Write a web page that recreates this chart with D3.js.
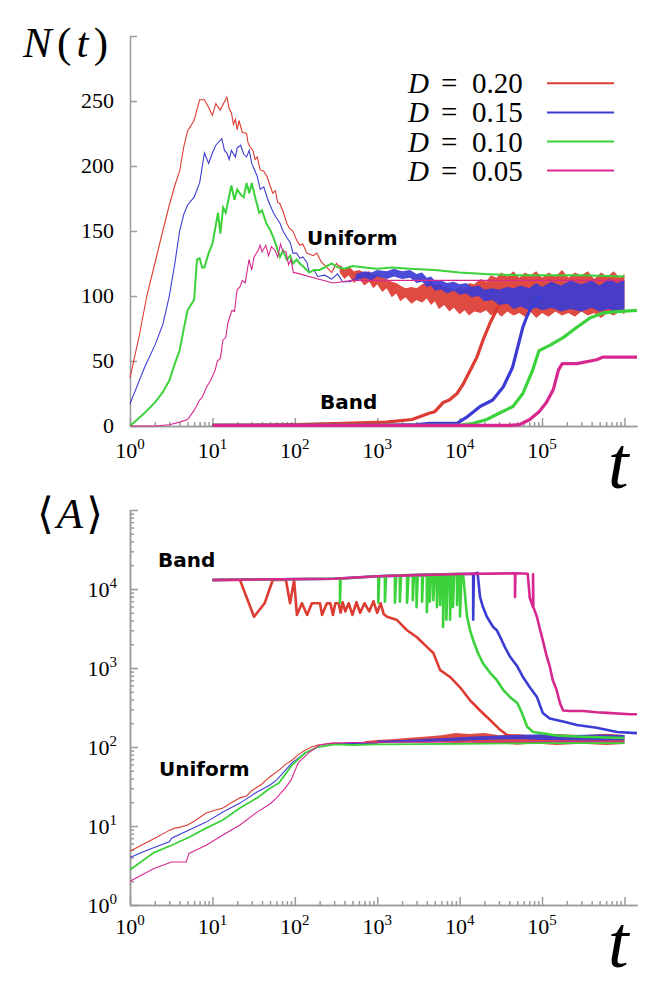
<!DOCTYPE html>
<html>
<head>
<meta charset="utf-8">
<script src="https://cdn.jsdelivr.net/npm/d3@7"></script>
<style>
  body { margin: 0; background: #fff; }
  svg text { font-family: "Liberation Serif", "DejaVu Serif", serif; fill: #000; }
  svg text.tag { font-family: "DejaVu Sans", sans-serif; font-weight: bold; }
</style>
</head>
<body>
<div id="chart"></div>
<script>
/* ===== data ===== */

const T_MAX = 1.42e6;
const tDecades = [1, 10, 100, 1e3, 1e4, 1e5, 1e6];
const tDecadeLabels = ['0', '1', '2', '3', '4', '5'];
const nTicks = [0, 50, 100, 150, 200, 250, 300];
const nTickLabels = ['0', '50', '100', '150', '200', '250'];
const aDecades = [1, 10, 100, 1e3, 1e4, 1e5];
const aDecadeLabels = ['0', '1', '2', '3', '4'];

const legendValues = ['0.20', '0.15', '0.10', '0.05'];
const colors = ['#dc3c32', '#3c3cd4', '#3cd23c', '#d72890'];

// ---- N(t), uniform initial condition: [t, N]
const nUni020 = [[1,37],[1.3,70],[1.6,100],[2,125],[2.5,150],[3,170],[3.5,185],[4,196],[4.5,215],[5,227],[6,235],[7,251],[8,251],[9,245],[10,239],[11,248],[12.4,243],[15,253],[16,244],[17,241],[18,232],[19,236],[20,228],[21,235],[23,226],[26,225],[27,218],[28.5,215],[31,212],[33,205],[35,207],[38,197],[42,196],[46,192],[50,185],[54,179],[58,181],[62,172],[66,171],[72,165],[80,156],[86,152],[95,150],[105,143],[115,139],[125,140],[140,133],[167,131],[185,133],[210,126],[245,122],[280,118],[320,125],[353,122]];
const nUni015 = [[1,17],[1.5,45],[2,62],[2.5,78],[3,100],[3.5,125],[4,150],[4.5,163],[5,170],[6,176],[7,187],[8,210],[9,202],[10,210],[11,216],[13,221],[14,212],[15,210],[16,205],[17,212],[19,207],[20,214],[22,216],[24,209],[26,207],[28,212],[30,202],[33,196],[35,192],[38,182],[42,184],[46,176],[50,170],[55,164],[60,160],[66,156],[72,150],[80,145],[88,141],[95,133],[105,133],[115,129],[125,130],[140,126],[150,118],[170,120],[190,115],[230,116],[280,113],[330,117],[380,111],[470,111],[550,114]];
const nUni010 = [[1,0],[1.5,10],[2,18],[2.5,26],[3,35],[3.5,48],[4,58],[4.5,75],[5,89],[6,97],[6.5,128],[7,129],[7.5,122],[8,122],[9,133],[10,140],[11.7,164],[12.5,148],[13.5,168],[14.5,164],[17,185],[18.5,174],[20,182],[22,178],[24,176],[26,187],[28,179],[30,187],[33,176],[37,164],[40,166],[45,156],[50,151],[55,145],[60,138],[66,130],[72,135],[80,128],[88,131],[95,125],[105,128],[115,125],[130,122],[150,118],[170,120],[200,120],[230,122],[280,125],[330,122],[400,121],[500,123],[700,122],[1000,121],[1500,122],[2500,121],[5000,120],[10000,118],[20000,117],[50000,116],[100000,116],[300000,116],[1e6,115]];
const nUni005 = [[1,0],[2,0],[3,1],[4,3],[5,5],[6,12],[7,20],[7.5,22],[8.5,30],[9.5,35],[10.8,43],[11.5,50],[12.5,52],[13.4,66],[14.5,68],[15.5,80],[17.3,89],[18.5,88],[20,105],[21.6,107],[23,112],[25,110],[27.8,128],[30,120],[32,130],[35.8,135],[38,139],[40,134],[44.5,139],[48,131],[52,138],[57.5,135],[62,130],[67,140],[72,134],[78,134],[84,124],[90,128],[96,118],[100,118],[290,110],[500,112],[1e6,112]];

// noisy part of the uniform curves: [t, low, high]
const nNoise020 = [[350,118,124],[400,113,121],[450,116,123],[520,110,119],[600,113,120],[700,108,118],[800,111,119],[900,106,116],[1000,109,117],[1150,103,114],[1300,106,113],[1500,99,111],[1700,102,110],[1900,96,108],[2200,99,106],[2600,94,107],[3000,97,106],[3500,95,109],[4000,98,110],[4500,93,112],[5000,96,108],[5600,90,110],[6500,93,107],[7500,88,106],[8500,91,104],[10000,86,107],[11500,89,105],[13000,85,110],[15000,88,109],[18000,87,113],[21000,89,111],[24000,85,116],[28000,88,114],[32000,84,118],[38000,88,115],[45000,85,119],[53000,87,114],[62000,84,118],[72000,88,116],[85000,83,119],[100000,87,114],[120000,84,118],[145000,88,115],[175000,85,120],[210000,87,114],[250000,84,118],[300000,88,116],[360000,85,119],[430000,87,113],[520000,83,118],[620000,87,115],[740000,85,119],[880000,88,114],[1e6,86,117]];
const nNoise015 = [[550,112,117],[700,114,119],[850,112,118],[1000,115,120],[1300,113,119],[1600,115,121],[2000,113,119],[2500,114,120],[3000,110,117],[3500,111,118],[4000,107,114],[4500,108,115],[5000,104,112],[6000,105,112],[7000,102,110],[8500,104,111],[10000,101,109],[12000,102,110],[14000,99,107],[17000,100,108],[20000,96,105],[25000,97,106],[30000,93,105],[38000,94,107],[45000,90,106],[55000,92,108],[70000,89,106],[85000,91,110],[100000,89,107],[130000,91,111],[170000,88,108],[220000,90,112],[300000,88,109],[400000,91,112],[500000,88,108],[650000,90,113],[800000,87,110],[1e6,90,112]];

// ---- N(t), band initial condition
const nBand020 = [[10,0.5],[100,1],[384,2],[1280,3],[2640,5],[4360,10],[5000,11],[6300,18],[7500,20],[9300,25],[11000,32],[12300,38],[14000,45],[16200,53],[19200,66],[23300,79],[28000,89],[32400,99]];
const nBand015 = [[10,0.5],[1000,0.5],[3000,1],[4360,2],[9300,2],[12300,7],[17700,15],[25200,20],[33800,30],[43800,45],[50900,61],[58500,76],[65300,84],[75000,92],[87000,97],[100000,100]];
const nBand010 = [[10,0.5],[10000,0.5],[14600,2],[21300,5],[30600,10],[44300,15],[58500,25],[77000,43],[92000,58],[124000,62],[180000,68],[265000,76],[380000,83],[550000,87],[810000,88],[1420000,89]];
const nBand005 = [[10,0.5],[40000,0.5],[53000,1],[71000,5],[92000,11],[113000,18],[137000,28],[158000,43],[176000,48],[265000,48],[460000,51],[550000,53],[1420000,53]];

// ---- <A>, uniform initial condition
const aUni020 = [[1,4.8],[1.5,6],[2,7],[3,8.8],[3.5,9.4],[4,9.6],[5,10.3],[6,11.5],[8.4,14.6],[10,15.5],[13.4,16.9],[16,19],[21.6,22.7],[26,24],[30,28],[34.8,31],[40,34],[44.7,38],[50,42],[64.3,51],[80,62],[92.5,68],[110,80],[133,91],[160,100],[190,106],[250,110],[307,112],[400,110],[707,112]];
const aUni015 = [[1,4],[1.5,4.8],[2,5.4],[3,6.3],[3.2,7],[5.2,8.9],[8.4,11.2],[13.4,15],[21.6,19.5],[34.8,27],[50,33],[60,38],[92.5,63],[133,84],[190,100],[307,109],[500,111],[1000,112]];
const aUni010 = [[1,2.8],[1.3,3.4],[1.95,4.6],[3.2,5.7],[5.2,7.2],[8.4,9.4],[13.4,11.9],[21.6,16.9],[34.8,22.7],[50,30],[64,35],[92.5,59],[133,84],[190,100],[307,108],[500,106],[1000,108],[3000,109],[10000,110],[100000,112],[1e6,112]];
const aUni005 = [[1,2],[1.95,2.9],[3.2,3.5],[4.8,3.5],[5.2,4.5],[8.4,5.7],[13.4,7.7],[21.6,10.3],[34.8,15],[50,19],[60,22.7],[76,30],[90,38],[110,63],[150,86],[200,106],[280,112],[500,114],[1000,115],[1e6,118]];

const aNoise020 = [[700,110,118],[1000,111,123],[1500,113,125],[2500,114,131],[4000,113,136],[6000,115,141],[9000,112,150],[13000,114,146],[20000,110,150],[30000,112,141],[50000,107,146],[80000,111,140],[150000,106,146],[300000,110,141],[600000,106,147],[1e6,109,142]];
const aNoise015 = [[1000,112,121],[2000,114,123],[4000,116,127],[8000,119,131],[15000,122,136],[30000,124,140],[60000,125,143],[100000,123,145],[200000,122,142],[500000,121,144],[1e6,122,142]];

// ---- <A>, band initial condition
const aBand020 = [[10,13000],[21.6,13000],[32,4450],[43,6600],[54,13000],[78,13000],[87.6,6600],[98,13000],[106,4700],[122,6600],[141,4700],[161,6600],[202,6600],[214,4700],[245,6600],[270,6600],[290,4700],[310,6600],[340,6600],[360,5000],[380,6800],[410,5200],[450,6600],[500,4700],[560,6800],[620,5000],[700,6600],[800,5200],[900,7000],[1000,5000],[1100,6600],[1200,4800],[1320,4450],[1740,4040],[2300,3000],[3030,2450],[4000,1850],[4800,1550],[5800,940],[7650,770],[10100,570],[13400,390],[17700,290],[23400,220],[31000,165],[37600,142],[50000,135]];
const aBand015 = [[10,13000],[300,13500],[1000,14500],[3000,15000],[10000,15500],[14600,15600],[14600,4100],[14900,15600],[16500,16000],[17700,7900],[19200,5900],[21400,4450],[25500,3300],[28300,3000],[32400,2250],[35300,1850],[40700,1400],[50000,1050],[58600,770],[71000,570],[86700,430],[102000,270],[124000,230],[180000,210],[265000,190],[460000,175],[813000,155],[1420000,150]];
const aBand010 = [[10,13000],[300,13500],[353,13500],[353,6700],[360,13500],[1030,14500],[1030,6700],[1060,14500],[1240,14600],[1240,6900],[1280,14600],[1640,14800],[1640,6700],[1700,14800],[1880,14900],[1880,6900],[1950,14900],[2300,15000],[2300,6700],[2400,15000],[2700,15000],[2700,7200],[2800,15000],[3000,15100],[3000,5900],[3100,15100],[3500,15100],[3500,6900],[3600,15100],[4000,15200],[4000,5100],[4150,15200],[4350,15200],[4350,6900],[4500,15200],[4800,15300],[4800,7200],[5000,15300],[5300,15300],[5300,5900],[5500,15300],[5800,15400],[5800,6300],[6000,15400],[6300,15400],[6300,3300],[6500,15400],[6900,15400],[6900,4100],[7200,15500],[7650,15500],[7650,4100],[7900,15500],[8300,15500],[8300,5900],[8600,15500],[9300,15500],[9300,6300],[9600,15500],[10100,15500],[10100,4500],[10500,15500],[11000,15500],[12300,4450],[13400,3000],[14600,2250],[16700,1550],[19200,1150],[23400,870],[28300,700],[33700,530],[40700,430],[50000,360],[57000,270],[66000,180],[77800,155],[95000,150],[150000,140],[300000,135],[1e6,130]];
const aBand005 = [[10,13000],[300,13500],[1000,14500],[3000,15000],[10000,15500],[47000,15800],[47000,7900],[47500,15800],[67000,15600],[71000,7700],[77800,5900],[77800,15400],[78500,5900],[86700,4450],[95000,3000],[102000,2250],[114000,1400],[124000,1050],[135000,700],[150000,530],[165000,360],[180000,290],[218000,285],[316000,285],[460000,275],[620000,270],[1170000,260],[1420000,260]];

const nUniform = [nUni020, nUni015, nUni010, nUni005];
const nBand = [nBand020, nBand015, nBand010, nBand005];
const nNoise = [nNoise020, nNoise015, null, null];
const aUniform = [aUni020, aUni015, aUni010, aUni005];
const aBand = [aBand020, aBand015, aBand010, aBand005];
const aNoise = [aNoise020, aNoise015, null, null];

/* ===== chart ===== */

const svg = d3.select('#chart').append('svg')
  .attr('width', 664)
  .attr('height', 989);

const x = d3.scaleLog().domain([1, T_MAX]).range([130, 637]);
const yN = d3.scaleLinear().domain([0, 300]).range([426, 36]);
const yA = d3.scaleLog().domain([1, 1e5]).range([905, 510]);

const isDecade = v => Math.abs(Math.log10(v) - Math.round(Math.log10(v))) < 1e-6;

function styleAxis(g) {
  g.selectAll('path, line').attr('stroke', '#9a9a9a').attr('stroke-width', 1.5);
}

// exponent labels like 10^3
function powLabel(sel, exp) {
  sel.append('tspan').text('10');
  sel.append('tspan').attr('font-size', '15px').attr('dy', -9).text(exp);
}

function drawXAxis(yPos, labelOffset) {
  const g = svg.append('g').attr('transform', `translate(0,${yPos})`);
  g.append('g')
    .call(d3.axisBottom(x).tickValues(x.ticks().filter(v => !isDecade(v))).tickSize(-4).tickSizeOuter(0).tickFormat(''))
    .call(styleAxis);
  g.append('g')
    .call(d3.axisBottom(x).tickValues(tDecades).tickSize(-8).tickSizeOuter(0).tickFormat(''))
    .call(styleAxis);

  tDecadeLabels.forEach((lab, i) => {
    svg.append('text')
      .attr('x', x(tDecades[i]))
      .attr('y', yPos + labelOffset)
      .attr('text-anchor', 'middle')
      .attr('font-size', '22px')
      .call(powLabel, lab);
  });

  svg.append('text')
    .attr('x', 608)
    .attr('y', yPos + 62)
    .attr('font-size', '74px')
    .attr('font-style', 'italic')
    .text('t');
}

// ---- top panel axes
drawXAxis(426, 32);

svg.append('g')
  .attr('transform', 'translate(130,0)')
  .call(d3.axisLeft(yN).tickValues(nTicks).tickSize(-7).tickSizeOuter(0).tickFormat(''))
  .call(styleAxis);

svg.selectAll('.n-label')
  .data(nTickLabels)
  .join('text')
  .attr('x', 114)
  .attr('y', d => yN(+d) + 7)
  .attr('text-anchor', 'end')
  .attr('font-size', '22px')
  .text(d => d);

const nTitle = svg.append('text')
  .attr('x', 23).attr('y', 57)
  .attr('font-size', '43px')
  .attr('textLength', 85);
nTitle.append('tspan').attr('font-style', 'italic').text('N');
nTitle.append('tspan').text('(');
nTitle.append('tspan').attr('font-style', 'italic').text('t');
nTitle.append('tspan').text(')');

// ---- bottom panel axes
drawXAxis(905, 29);

svg.append('g')
  .attr('transform', 'translate(130,0)')
  .call(d3.axisLeft(yA).tickValues(yA.ticks().filter(v => !isDecade(v))).tickSize(-4).tickSizeOuter(0).tickFormat(''))
  .call(styleAxis);
svg.append('g')
  .attr('transform', 'translate(130,0)')
  .call(d3.axisLeft(yA).tickValues(aDecades).tickSize(-8).tickSizeOuter(0).tickFormat(''))
  .call(styleAxis);

aDecadeLabels.forEach((lab, i) => {
  svg.append('text')
    .attr('x', 117)
    .attr('y', yA(aDecades[i]) + 8)
    .attr('text-anchor', 'end')
    .attr('font-size', '22px')
    .call(powLabel, lab);
});

const aTitle = svg.append('text')
  .attr('x', 37).attr('y', 528)
  .attr('font-size', '43px')
  .attr('textLength', 66);
aTitle.append('tspan').text('\u27E8');
aTitle.append('tspan').attr('font-style', 'italic').text('A');
aTitle.append('tspan').text('\u27E9');

// ---- curves
const lineN = d3.line().x(d => x(d[0])).y(d => yN(d[1]));
const areaN = d3.area().x(d => x(d[0])).y0(d => yN(d[1])).y1(d => yN(d[2]));
const lineA = d3.line().x(d => x(d[0])).y(d => yA(d[1]));
const areaA = d3.area().x(d => x(d[0])).y0(d => yA(d[1])).y1(d => yA(d[2]));

const curves = svg.append('g').attr('fill', 'none');

colors.forEach((c, i) => {
  // top panel
  curves.append('path').datum(nBand[i])
    .attr('d', lineN).attr('stroke', c).attr('stroke-width', 3.2).attr('stroke-linejoin', 'round');
  curves.append('path').datum(nUniform[i])
    .attr('d', lineN).attr('stroke', c).attr('stroke-width', i === 2 ? 2 : 1.1);
  if (nNoise[i]) {
    curves.append('path').datum(nNoise[i])
      .attr('d', areaN).attr('fill', c).attr('opacity', 0.92);
  }
  // bottom panel
  curves.append('path').datum(aBand[i])
    .attr('d', lineA).attr('stroke', c).attr('stroke-width', 2.6).attr('stroke-linejoin', 'round');
  curves.append('path').datum(aUniform[i])
    .attr('d', lineA).attr('stroke', c).attr('stroke-width', i === 2 ? 1.8 : 1.1);
  if (aNoise[i]) {
    curves.append('path').datum(aNoise[i])
      .attr('d', areaA).attr('fill', c).attr('opacity', 0.92);
  }
});

// ---- annotations
[['Uniform', 307, 245], ['Band', 320, 409], ['Band', 158, 567], ['Uniform', 159, 776]]
  .forEach(([txt, tx, ty]) => {
    svg.append('text')
      .attr('class', 'tag')
      .attr('x', tx).attr('y', ty)
      .attr('font-size', '20px')
      .text(txt);
  });

// ---- legend
const legend = svg.append('g');
legendValues.forEach((v, i) => {
  const cy = 83.3 + i * 29.1;
  const t = legend.append('text').attr('y', cy + 10).attr('font-size', '29px');
  t.append('tspan').attr('x', 408).attr('font-style', 'italic').text('D');
  t.append('tspan').attr('x', 441).text('=');
  t.append('tspan').attr('x', 472).text(v);
  legend.append('line')
    .attr('x1', 547).attr('x2', 614)
    .attr('y1', cy).attr('y2', cy)
    .attr('stroke', colors[i])
    .attr('stroke-width', 2);
});
</script>
</body>
</html>
